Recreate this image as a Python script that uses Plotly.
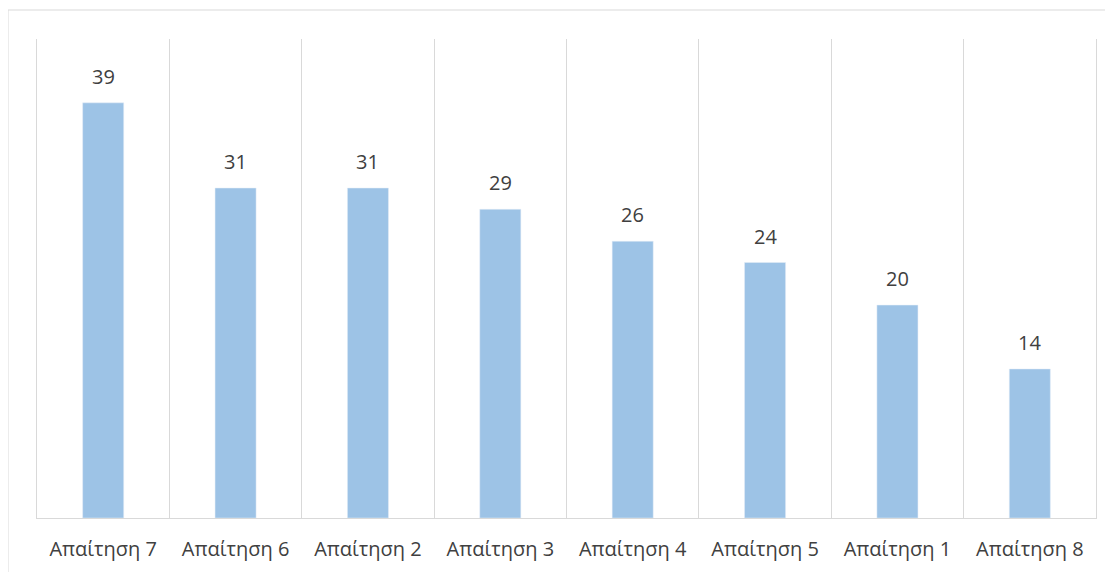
import plotly.graph_objects as go

categories = ["Απαίτηση 7", "Απαίτηση 6", "Απαίτηση 2", "Απαίτηση 3",
              "Απαίτηση 4", "Απαίτηση 5", "Απαίτηση 1", "Απαίτηση 8"]
values = [39, 31, 31, 29, 26, 24, 20, 14]

FONT = "Open Sans"
TXT = "#404040"
OFF = 8  # page body margin
W, H = 1113, 572
L, T = 37 - OFF, 39 - OFF
R = W - (1096 - OFF)
B = H - (518 - OFF)
pw, ph = W - L - R, H - T - B

fig = go.Figure(go.Bar(
    x=categories, y=values, marker_color="#9DC3E6", width=0.31,
    hoverinfo="x+y",
))

for c, v in zip(categories, values):
    fig.add_annotation(x=c, y=v, text=str(v), showarrow=False,
                       yanchor="bottom", yshift=11,
                       font=dict(family=FONT, size=20, color=TXT))

# outer chart border
fig.add_shape(type="rect", xref="paper", yref="paper",
              x0=(8 - 37) / pw, x1=1.3, y0=-0.5, y1=1 + (39 - 10) / ph,
              line=dict(color="#D9D9D9", width=1), layer="below")

fig.update_layout(
    width=W, height=H,
    margin=dict(l=L, r=R, t=T, b=B),
    paper_bgcolor="white", plot_bgcolor="white",
    showlegend=False,
    xaxis=dict(type="category", tickson="boundaries", showgrid=True,
               gridcolor="#D9D9D9", gridwidth=1.3, showline=True,
               linecolor="#D9D9D9", linewidth=1.3, ticks="", ticklabelstandoff=13,
               tickfont=dict(family=FONT, size=20, color=TXT)),
    yaxis=dict(range=[0, 45], showgrid=False, showticklabels=False,
               zeroline=False, showline=True, mirror=True,
               linecolor="#D9D9D9", linewidth=1.3, ticks=""),
)

fig.write_html("out.html")
